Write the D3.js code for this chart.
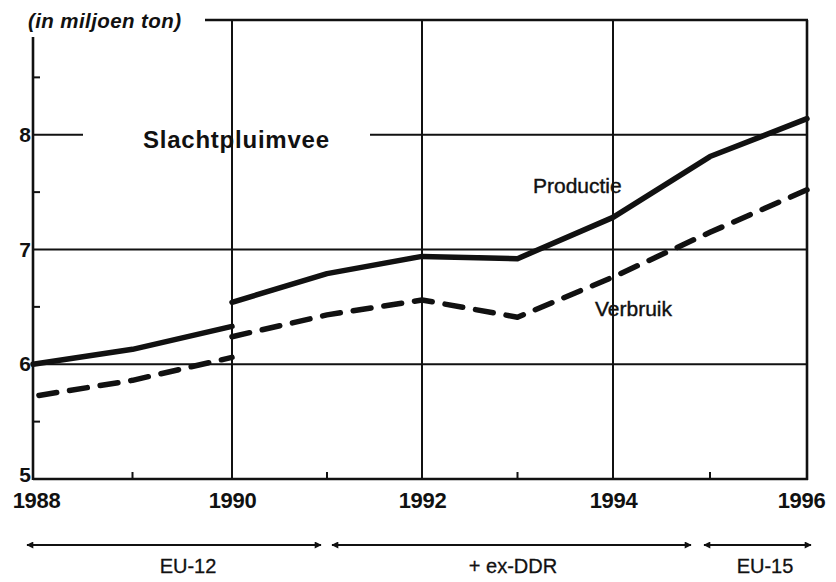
<!DOCTYPE html>
<html><head><meta charset="utf-8">
<script src="https://cdn.jsdelivr.net/npm/d3@7"></script>
<style>
html,body{margin:0;padding:0;background:#fff;}
svg{display:block;font-family:"Liberation Sans",Arial,Helvetica,sans-serif;}
</style></head>
<body><svg id="c" width="836" height="582"></svg>
<script>
// ---- data ----
const yearsEU12 = [1988, 1989, 1990];
const prodEU12  = [6.00, 6.13, 6.33];
const verbEU12  = [5.72, 5.86, 6.06];
const yearsExt  = [1990, 1991, 1992, 1993, 1994, 1995, 1996];
const prodExt   = [6.54, 6.79, 6.94, 6.92, 7.28, 7.81, 8.14];
const verbExt   = [6.24, 6.43, 6.56, 6.41, 6.76, 7.15, 7.52];
const xTickLabels = [1988, 1990, 1992, 1994, 1996];
const xMinorTicks = [1989, 1991, 1993, 1995];
const yTickLabels = [5, 6, 7, 8];
const yMinorTicks = [5.5, 6.5, 7.5, 8.5];
const periodLabels = ["EU-12", "+ ex-DDR", "EU-15"];
const periodStart  = [1988, 1991, 1995];
const periodEnd    = [1991, 1995, 1996];
const unitLabel = "(in miljoen ton)";
const chartTitle = "Slachtpluimvee";
const seriesLabels = ["Productie", "Verbruik"];

// ---- layout ----
const svg = d3.select("#c");
const x = d3.scaleLinear().domain([1988, 1990, 1992, 1994, 1996]).range([33, 232, 422, 613, 807]);
const y = d3.scaleLinear().domain([5, 9]).range([479, 20]);
const ink = "#111";

// gridlines (horizontal)
const g = svg.append("g").attr("stroke", ink).attr("stroke-width", 2).attr("fill", "none");
[6, 7].forEach(v => g.append("line").attr("x1", x(1988)).attr("x2", x(1996)).attr("y1", y(v)).attr("y2", y(v)));
g.append("line").attr("x1", x(1988)).attr("x2", 83).attr("y1", y(8)).attr("y2", y(8));
g.append("line").attr("x1", 370).attr("x2", x(1996)).attr("y1", y(8)).attr("y2", y(8));
// vertical gridlines
[1990, 1992, 1994].forEach(v => g.append("line").attr("x1", x(v)).attr("x2", x(v)).attr("y1", y(9)).attr("y2", y(5)));

// frame
const f = svg.append("g").attr("stroke", ink).attr("stroke-width", 2.6).attr("fill", "none");
f.append("line").attr("x1", x(1988)).attr("x2", x(1988)).attr("y1", 37).attr("y2", y(5) + 1);
f.append("line").attr("x1", x(1988)).attr("x2", x(1996) + 1).attr("y1", y(5)).attr("y2", y(5));
f.append("line").attr("x1", x(1996)).attr("x2", x(1996)).attr("y1", y(9)).attr("y2", y(5) + 1);
f.append("line").attr("x1", 205).attr("x2", x(1996) + 1).attr("y1", y(9)).attr("y2", y(9));

// minor ticks
yMinorTicks.forEach(v => f.append("line").attr("stroke-width", 2).attr("x1", x(1988)).attr("x2", x(1988) + 7).attr("y1", y(v)).attr("y2", y(v)));
xMinorTicks.forEach(v => f.append("line").attr("stroke-width", 2).attr("x1", x(v)).attr("x2", x(v)).attr("y1", y(5)).attr("y2", y(5) - 7));

// axes (labels only)
const ax = svg.append("g").attr("transform", `translate(0,${y(5) + 12})`)
  .call(d3.axisBottom(x).tickValues(xTickLabels).tickFormat(d3.format("d")).tickSize(0).tickPadding(0));
ax.select(".domain").remove();
ax.selectAll("text").attr("font-size", 22).attr("font-weight", "bold").attr("fill", ink)
  .attr("font-family", "'Liberation Sans',Arial,sans-serif").attr("dy", "0.76em").attr("letter-spacing", -0.3);
ax.selectAll(".tick").filter(d => d === 1988).select("text").attr("dx", 3);
ax.selectAll(".tick").filter(d => d === 1996).select("text").attr("dx", -6);

const ay = svg.append("g").attr("transform", `translate(${x(1988) - 2},0)`)
  .call(d3.axisLeft(y).tickValues(yTickLabels).tickFormat(d3.format("d")).tickSize(0).tickPadding(0));
ay.select(".domain").remove();
ay.selectAll("text").attr("font-size", 21).attr("font-weight", "bold").attr("fill", ink)
  .attr("font-family", "'Liberation Sans',Arial,sans-serif");
ay.selectAll(".tick").filter(d => d === 5).select("text").attr("dy", "0.1em");

// series lines
const line = d3.line().x(d => x(d[0])).y(d => y(d[1])).curve(d3.curveLinear);
const zip = (a, b) => a.map((v, i) => [v, b[i]]);
const lines = svg.append("g").attr("fill", "none").attr("stroke", ink).attr("stroke-width", 5.5)
  .attr("stroke-linejoin", "round");
[zip(yearsEU12, prodEU12), zip(yearsExt, prodExt)].forEach(d =>
  lines.append("path").attr("d", line(d)).attr("stroke-linecap", "round"));
[zip(yearsEU12, verbEU12), zip(yearsExt, verbExt)].forEach((d, i) =>
  lines.append("path").attr("d", line(d)).attr("stroke-linecap", "round")
    .attr("stroke-dasharray", "18,13").attr("stroke-dashoffset", i === 0 ? -6 : 0));

// texts
svg.append("text").attr("x", 28).attr("y", 28).attr("font-size", 20.5).attr("font-weight", "bold")
  .attr("font-style", "italic").attr("fill", ink).attr("textLength", 153).text(unitLabel);
svg.append("text").attr("x", 143).attr("y", 148).attr("font-size", 24).attr("font-weight", "bold")
  .attr("fill", ink).attr("textLength", 186).text(chartTitle);
svg.append("text").attr("x", 533).attr("y", 193).attr("font-size", 21).attr("fill", ink)
  .attr("stroke", ink).attr("stroke-width", 0.4).text(seriesLabels[0]);
svg.append("text").attr("x", 595).attr("y", 316).attr("font-size", 21).attr("fill", ink)
  .attr("stroke", ink).attr("stroke-width", 0.4).text(seriesLabels[1]);

// period arrows
const defs = svg.append("defs");
defs.append("marker").attr("id", "ah").attr("viewBox", "0 0 10 10").attr("refX", 9).attr("refY", 5)
  .attr("markerWidth", 9).attr("markerHeight", 7).attr("markerUnits", "userSpaceOnUse").attr("orient", "auto-start-reverse")
  .append("path").attr("d", "M0,0 L10,5 L0,10 Z").attr("fill", ink);
const arrowY = 545;
const padL = [6, -5, 6], padR = [6, 19, -4];
const pg = svg.append("g");
periodLabels.forEach((lab, i) => {
  const x1 = x(periodStart[i]) - padL[i];
  const x2 = x(periodEnd[i]) - padR[i];
  pg.append("line").attr("x1", x1).attr("x2", x2).attr("y1", arrowY).attr("y2", arrowY)
    .attr("stroke", ink).attr("stroke-width", 2)
    .attr("marker-start", "url(#ah)").attr("marker-end", "url(#ah)");
});
const labelX = [188, 513, 765];
periodLabels.forEach((lab, i) => {
  pg.append("text").attr("x", labelX[i]).attr("y", 573).attr("text-anchor", "middle")
    .attr("font-size", 20).attr("fill", ink).attr("stroke", ink).attr("stroke-width", 0.3).text(lab);
});
</script>
</body></html>
